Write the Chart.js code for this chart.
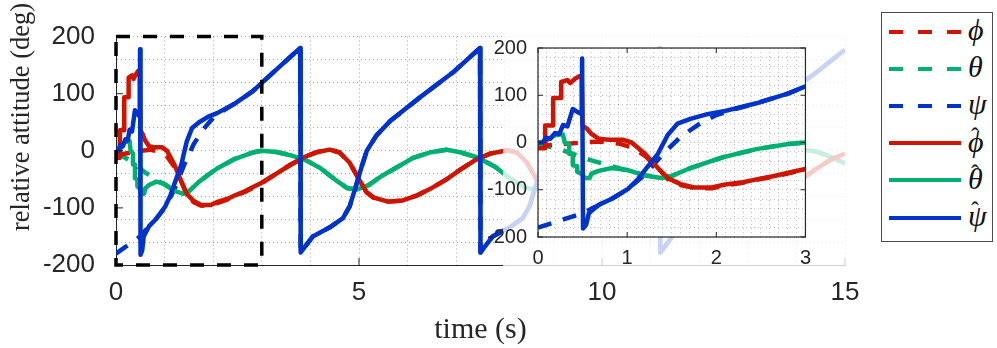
<!DOCTYPE html>
<html>
<head>
<meta charset="utf-8">
<script src="https://cdn.jsdelivr.net/npm/chart.js@4.4.1/dist/chart.umd.min.js"></script>
<style>
  body { margin: 0; background: #fff; }
  #wrap { position: relative; width: 997px; height: 348px; }
  #main { position: absolute; left: 0; top: 0; }
  #inset { position: absolute; left: 470px; top: 25px; }
  #legend {
    position: absolute; left: 881px; top: 12px; width: 110px; height: 228px;
    border: 1.5px solid #4a4a4a; background: #fff;
  }
  .row { position: relative; height: 37.2px; }
  .sw { position: absolute; left: 7px; top: 16.6px; width: 72px; height: 4px; }
  .sym {
    position: absolute; left: 86px; top: 0; line-height: 37px;
    font: italic 30px "Liberation Serif", serif; color: #111;
  }
  .hat { position: absolute; left: 3px; top: -2px; line-height: 1; font: 24px "Liberation Serif", serif; font-style: normal; }
</style>
</head>
<body>
<div id="wrap">
  <canvas id="main" width="997" height="348"></canvas>
  <canvas id="inset" width="350" height="260"></canvas>
  <div id="legend"></div>
</div>
<script>
// angles in deg, time in s
// first 3 s (estimates have steps, references are smooth)
const tPhiHatEarly = [0, 0.08, 0.08, 0.17, 0.17, 0.26, 0.26, 0.33, 0.36, 0.41, 0.46, 0.49, 0.5, 0.55, 0.6, 0.68, 0.8, 0.95, 1.05, 1.2, 1.35, 1.46, 1.6, 1.75, 1.95, 2.1, 2.3, 2.45, 2.65, 2.81, 3.0];
const phiHatEarly  = [-12, -12, 36, 36, 94, 94, 128, 132, 126, 134, 140, 140, 36, 29, 18, 8, 6, 6, 0, -24, -55, -76, -88, -95, -95, -89, -84, -78, -71, -64, -56];
const tPhiEarly = [0, 0.3, 0.5, 0.7, 0.9, 1.05, 1.2, 1.35, 1.46, 1.6, 1.75, 1.95, 2.1, 2.3, 2.45, 2.65, 2.81, 3.0];
const phiEarly  = [-8, -3, 0, 2, -2, -10, -28, -55, -78, -90, -96, -97, -91, -85, -79, -72, -65, -56];

const tThetaHatEarly = [0, 0.06, 0.1, 0.17, 0.24, 0.28, 0.3, 0.35, 0.35, 0.39, 0.39, 0.44, 0.44, 0.5, 0.52, 0.58, 0.6, 0.68, 0.83, 1.0, 1.2, 1.38, 1.5, 1.71, 1.9, 2.08, 2.45, 2.81, 3.0];
const thetaHatEarly  = [-7, -7, 5, 14, 17, 17, 0, -5, -24, -24, -48, -50, -62, -68, -75, -75, -66, -60, -54, -58, -70, -75, -71, -54, -42, -31, -14, -3, 0];
const tThetaEarly = [0, 0.15, 0.3, 0.45, 0.6, 0.75, 0.9, 1.05, 1.2, 1.38, 1.5, 1.71, 1.9, 2.08, 2.45, 2.81, 3.0];
const thetaEarly  = [-3, -10, -18, -28, -38, -46, -54, -62, -69, -75, -71, -54, -42, -31, -14, -3, 0];

const tPsiHatEarly = [0, 0.05, 0.09, 0.14, 0.19, 0.24, 0.28, 0.33, 0.39, 0.44, 0.49, 0.495, 0.505, 0.54, 0.57, 0.68, 0.83, 1.01, 1.12, 1.23, 1.345, 1.38, 1.455, 1.565, 1.71, 1.9, 2.08, 2.45, 2.81, 3.0];
const psiHatEarly  = [0, 0, 10, 8, 20, 18, 37, 34, 71, 65, 60, 178, -182, -174, -150, -132, -119, -98, -78, -51, -24, -11, 16, 40, 50, 60, 66, 83, 104, 119];
const tPsiEarly = [0, 0.25, 0.5, 0.6, 0.8, 1.0, 1.2, 1.4, 1.6, 1.8, 2.0, 2.2, 2.45, 2.81, 3.0];
const psiEarly  = [-180, -165, -150, -140, -122, -100, -68, -25, 12, 38, 58, 70, 83, 104, 119];

// after 3 s estimate and reference overlap
const tPhiTail = [3.3, 3.6, 3.9, 4.15, 4.4, 4.6, 4.8, 5.0, 5.15, 5.3, 5.6, 5.9, 6.2, 6.5, 6.8, 7.1, 7.4, 7.7, 8.05, 8.25, 8.45, 8.65, 8.8, 8.95, 9.25, 9.55, 9.85, 10.15, 10.45, 10.75, 11.05, 11.35, 11.7, 11.9, 12.1, 12.3, 12.45, 12.6, 12.9, 13.2, 13.5, 13.8, 14.1, 14.4, 14.7, 15.0];
const phiTail  = [-40, -24, -10, -2, 2, -3, -20, -50, -72, -82, -89, -87, -78, -65, -50, -32, -16, -5, 1, -3, -20, -50, -72, -82, -89, -87, -78, -65, -50, -32, -16, -5, 1, -3, -20, -50, -72, -82, -89, -87, -78, -65, -50, -32, -16, -5];
const tThetaTail = [3.3, 3.6, 3.9, 4.2, 4.5, 4.75, 4.95, 5.2, 5.45, 5.8, 6.1, 6.45, 6.8, 7.1, 7.45, 7.8, 8.1, 8.4, 8.6, 8.85, 9.1, 9.45, 9.75, 10.1, 10.45, 10.75, 11.1, 11.45, 11.75, 12.05, 12.25, 12.5, 12.75, 13.1, 13.4, 13.75, 14.1, 14.4, 14.75, 15.0];
const thetaTail  = [-2, -8, -16, -30, -50, -65, -68, -60, -45, -28, -13, -3, 2, -3, -12, -28, -48, -64, -68, -60, -45, -28, -13, -3, 2, -3, -12, -28, -48, -64, -68, -60, -45, -28, -13, -3, 2, -1, -12, -22];
const tPsiTail = [3.4, 3.79, 3.8, 4.05, 4.4, 4.67, 4.81, 4.95, 5.05, 5.16, 5.36, 5.64, 6.26, 6.93, 7.49, 7.5, 7.75, 8.1, 8.37, 8.51, 8.65, 8.75, 8.86, 9.06, 9.34, 9.96, 10.63, 11.19, 11.2, 11.45, 11.8, 12.07, 12.21, 12.35, 12.45, 12.56, 12.76, 13.04, 13.66, 14.33, 15.0];
const psiTail  = [150, 180, -178, -150, -134, -118, -97, -58, -29, 0, 27, 52, 94, 137, 180, -178, -150, -134, -118, -97, -58, -29, 0, 27, 52, 94, 137, 180, -178, -150, -134, -118, -97, -58, -29, 0, 27, 52, 94, 132, 177];

// axis ticks
const xLabelsMain = [0, 5, 10, 15];
const yLabels = [-200, -100, 0, 100, 200];
const yGridMain = [-200, -160, -120, -80, -40, 0, 40, 80, 120, 160, 200];
const zoomBox = { t0: 0, t1: 3, y0: -200, y1: 200 };

const RED = 'rgb(207,20,0)';
const GREEN = 'rgb(0,176,112)';
const BLUE = 'rgb(0,51,204)';
const INK = '#262626';
const GRID = 'rgba(0,0,0,0.36)';
const GRID_INSET = 'rgba(0,0,0,0.24)';
const DOTS = [1, 3];

const pts = (t, v) => t.map((x, i) => ({ x: x, y: v[i] }));

function makeDatasets(lw) {
  const dash = [14, 12];
  return [
    { label: 'psiHat', data: pts(tPsiHatEarly.concat(tPsiTail), psiHatEarly.concat(psiTail)), borderColor: BLUE, borderWidth: lw, order: 0 },
    { label: 'phiHat', data: pts(tPhiHatEarly.concat(tPhiTail), phiHatEarly.concat(phiTail)), borderColor: RED, borderWidth: lw, order: 1 },
    { label: 'thetaHat', data: pts(tThetaHatEarly.concat(tThetaTail), thetaHatEarly.concat(thetaTail)), borderColor: GREEN, borderWidth: lw, order: 2 },
    { label: 'psi', data: pts(tPsiEarly.concat(tPsiTail), psiEarly.concat(psiTail)), borderColor: BLUE, borderWidth: lw, borderDash: dash, order: 3 },
    { label: 'phi', data: pts(tPhiEarly.concat(tPhiTail), phiEarly.concat(phiTail)), borderColor: RED, borderWidth: lw, borderDash: dash, order: 4 },
    { label: 'theta', data: pts(tThetaEarly.concat(tThetaTail), thetaEarly.concat(thetaTail)), borderColor: GREEN, borderWidth: lw, borderDash: dash, order: 5 }
  ];
}

const common = {
  responsive: false,
  animation: false,
  devicePixelRatio: 1,
  parsing: false,
  elements: { point: { radius: 0 }, line: { tension: 0, borderJoinStyle: 'round', borderCapStyle: 'butt' } },
  plugins: { legend: { display: false }, tooltip: { enabled: false } }
};

function inTicks(ctx, scale, vals, len, side) {
  ctx.save();
  ctx.strokeStyle = INK;
  ctx.lineWidth = 1;
  ctx.beginPath();
  vals.forEach(v => {
    const p = scale.getPixelForValue(v);
    if (scale.axis === 'x') {
      const y = side === 'top' ? scale.chart.chartArea.top : scale.chart.chartArea.bottom;
      ctx.moveTo(p, y);
      ctx.lineTo(p, side === 'top' ? y + len : y - len);
    } else {
      const x = side === 'right' ? scale.chart.chartArea.right : scale.chart.chartArea.left;
      ctx.moveTo(x, p);
      ctx.lineTo(side === 'right' ? x - len : x + len, p);
    }
  });
  ctx.stroke();
  ctx.restore();
}

// main chart
const mainDecor = {
  id: 'mainDecor',
  afterDatasetsDraw(chart) {
    const { ctx, scales: { x, y } } = chart;
    inTicks(ctx, x, xLabelsMain, 7, 'bottom');
    inTicks(ctx, y, yLabels, 7, 'left');
    // dashed zoom box
    ctx.save();
    ctx.strokeStyle = '#000';
    ctx.lineWidth = 3.5;
    ctx.setLineDash([14, 13]);
    const l = x.getPixelForValue(zoomBox.t0), r = x.getPixelForValue(zoomBox.t1);
    const t = y.getPixelForValue(zoomBox.y1), b = y.getPixelForValue(zoomBox.y0);
    ctx.strokeRect(l, t, r - l, b - t);
    ctx.restore();
    // translucent backing of the inset
    ctx.save();
    ctx.fillStyle = 'rgba(255,255,255,0.78)';
    ctx.fillRect(503, 0, 350, 272);
    ctx.restore();
  },
  afterDraw(chart) {
    const ctx = chart.ctx;
    ctx.save();
    ctx.translate(22, 117);
    ctx.rotate(-Math.PI / 2);
    ctx.font = '26.5px "Liberation Serif"';
    ctx.fillStyle = INK;
    ctx.textAlign = 'center';
    ctx.textBaseline = 'middle';
    ctx.fillText('relative attitude (deg)', 0, 0);
    ctx.restore();
  }
};

new Chart(document.getElementById('main'), {
  type: 'line',
  data: { datasets: makeDatasets(4.5) },
  options: Object.assign({}, common, {
    layout: { padding: { left: 0, top: 12, right: 152, bottom: 0 } },
    scales: {
      x: {
        type: 'linear', min: 0, max: 15,
        ticks: {
          stepSize: 1, autoSkip: false, maxRotation: 0, padding: 12,
          color: INK, font: { family: 'Liberation Sans', size: 26 },
          callback: v => xLabelsMain.includes(v) ? String(v) : ''
        },
        grid: { color: GRID, drawTicks: false, lineWidth: 1 },
        border: { display: true, color: INK, width: 1, dash: DOTS },
        title: { display: true, text: 'time (s)', color: INK, font: { family: 'Liberation Serif', size: 30 }, padding: { top: 0, bottom: 0 } },
        afterFit: s => { s.height = 83; }
      },
      y: {
        type: 'linear', min: -200, max: 200,
        afterBuildTicks: s => { s.ticks = [...new Set(yGridMain.concat(yLabels))].sort((a, b) => a - b).map(v => ({ value: v })); },
        ticks: {
          autoSkip: false, padding: 21,
          color: INK, font: { family: 'Liberation Sans', size: 26 },
          callback: v => yLabels.includes(v) ? String(v) : ''
        },
        grid: {
          color: c => yGridMain.includes(c.tick.value) ? GRID : 'rgba(0,0,0,0)',
          drawTicks: false, lineWidth: 1
        },
        border: { display: true, color: INK, width: 1, dash: DOTS },
        afterFit: s => { s.width = 116; }
      }
    }
  }),
  plugins: [mainDecor]
});

// inset (zoom of first 3 s)
const xLabelsInset = [0, 1, 2, 3];
const insetDecor = {
  id: 'insetDecor',
  beforeDraw(chart) {
    const { ctx, chartArea: a } = chart;
    ctx.save();
    ctx.fillStyle = '#fff';
    ctx.fillRect(a.left, a.top, a.right - a.left, a.bottom - a.top);
    ctx.restore();
  },
  afterDraw(chart) {
    const { ctx, chartArea: a, scales: { x, y } } = chart;
    inTicks(ctx, x, xLabelsInset, 5, 'bottom');
    inTicks(ctx, x, xLabelsInset, 5, 'top');
    inTicks(ctx, y, yLabels, 5, 'left');
    inTicks(ctx, y, yLabels, 5, 'right');
    ctx.save();
    ctx.strokeStyle = INK;
    ctx.lineWidth = 1.2;
    ctx.strokeRect(a.left, a.top, a.right - a.left, a.bottom - a.top);
    ctx.restore();
  }
};

new Chart(document.getElementById('inset'), {
  type: 'line',
  data: { datasets: makeDatasets(4.5) },
  options: Object.assign({}, common, {
    layout: { padding: { left: 0, top: 14, right: 10, bottom: 0 } },
    scales: {
      x: {
        type: 'linear', min: 0, max: 3,
        ticks: {
          stepSize: 0.1, autoSkip: false, maxRotation: 0, padding: 9,
          color: INK, font: { family: 'Liberation Sans', size: 20 },
          callback: v => Math.abs(v - Math.round(v)) < 1e-6 ? String(Math.round(v)) : ''
        },
        grid: { color: GRID_INSET, drawTicks: false, lineWidth: 1 },
        border: { display: false, dash: DOTS },
        afterFit: s => { s.height = 48; }
      },
      y: {
        type: 'linear', min: -200, max: 200,
        ticks: {
          stepSize: 20, autoSkip: false, padding: 11,
          color: INK, font: { family: 'Liberation Sans', size: 20 },
          callback: v => yLabels.includes(v) ? String(v) : ''
        },
        grid: { color: GRID_INSET, drawTicks: false, lineWidth: 1 },
        border: { display: false, dash: DOTS },
        afterFit: s => { s.width = 68; }
      }
    }
  }),
  plugins: [insetDecor]
});

// legend
const legendItems = [
  { sym: 'ϕ', color: RED, dashed: true, hat: false },
  { sym: 'θ', color: GREEN, dashed: true, hat: false },
  { sym: 'ψ', color: BLUE, dashed: true, hat: false },
  { sym: 'ϕ', color: RED, dashed: false, hat: true },
  { sym: 'θ', color: GREEN, dashed: false, hat: true },
  { sym: 'ψ', color: BLUE, dashed: false, hat: true }
];
const leg = document.getElementById('legend');
legendItems.forEach(it => {
  const row = document.createElement('div');
  row.className = 'row';
  const sw = document.createElement('div');
  sw.className = 'sw';
  sw.style.background = it.dashed
    ? `repeating-linear-gradient(to right, ${it.color} 0 14px, transparent 14px 29px)`
    : it.color;
  const sym = document.createElement('span');
  sym.className = 'sym';
  sym.textContent = it.sym;
  if (it.hat) {
    const h = document.createElement('span');
    h.className = 'hat';
    h.textContent = 'ˆ';
    sym.appendChild(h);
  }
  row.appendChild(sw);
  row.appendChild(sym);
  leg.appendChild(row);
});
</script>
</body>
</html>
